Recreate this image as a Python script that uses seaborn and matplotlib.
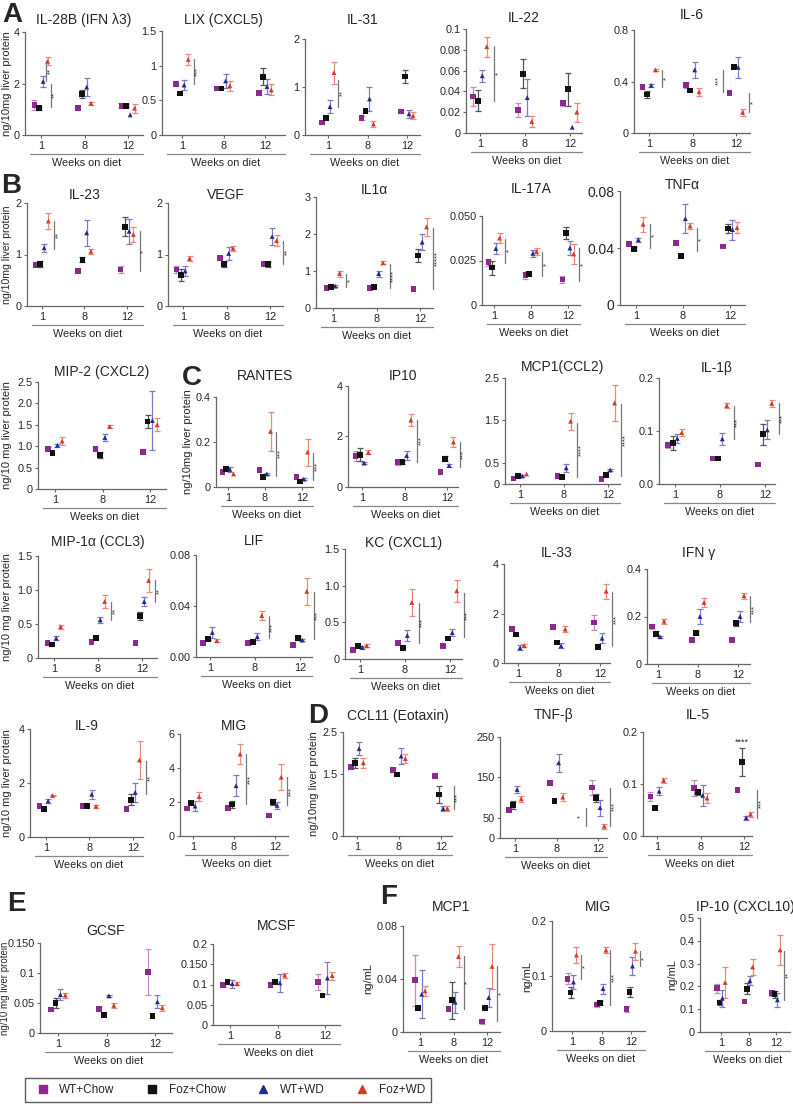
import numpy as np
import pandas as pd
import matplotlib
matplotlib.use("Agg")
import matplotlib.pyplot as plt
from matplotlib.lines import Line2D
import seaborn as sns

sns.set_theme(style="ticks")
plt.rcParams['font.family'] = ['Liberation Sans', 'DejaVu Sans']

W, H = 793, 1111

GROUPS = ["WT+Chow", "Foz+Chow", "WT+WD", "Foz+WD"]
WEEKS = ["1", "8", "12"]

# means / error bars: rows = GROUPS, columns = WEEKS
IL28B_M = [[1.17, 1.06, 1.14], [1.04, 1.58, 1.13], [2.08, 1.86, 0.78], [2.86, 1.23, 1.04]]
IL28B_E = [[0.18, 0, 0.1], [0.05, 0.15, 0.06], [0.22, 0.35, 0], [0.16, 0.07, 0.18]]
LIX_M = [[0.74, 0.67, 0.61], [0.6, 0.67, 0.84], [0.72, 0.78, 0.7], [1.09, 0.71, 0.65]]
LIX_E = [[0, 0, 0.04], [0, 0, 0.12], [0.07, 0.1, 0.11], [0.08, 0.07, 0.08]]
IL31_M = [[0.26, 0.35, 0.49], [0.35, 0.5, 1.22], [0.59, 0.75, 0.44], [1.3, 0.23, 0.4]]
IL31_E = [[0, 0.04, 0.03], [0, 0, 0.13], [0.13, 0.26, 0.08], [0.23, 0.06, 0.07]]
IL22_M = [[0.035, 0.022, 0.029], [0.031, 0.057, 0.042], [0.055, 0.034, 0.0055], [0.083, 0.011, 0.02]]
IL22_E = [[0.009, 0.0065, 0.003], [0.01, 0.014, 0.016], [0.006, 0.018, 0], [0.0095, 0.005, 0.009]]
IL6_M = [[0.36, 0.37, 0.31], [0.3, 0.33, 0.51], [0.37, 0.49, 0.51], [0.49, 0.32, 0.16]]
IL6_E = [[0.015, 0.02, 0], [0.03, 0, 0], [0.01, 0.06, 0.08], [0.01, 0.03, 0.03]]

IL23_M = [[0.8, 0.68, 0.71], [0.81, 0.9, 1.54], [1.13, 1.42, 1.45], [1.65, 1.06, 1.39]]
IL23_E = [[0, 0, 0.06], [0.06, 0.05, 0.19], [0.08, 0.25, 0.24], [0.15, 0.05, 0.15]]
VEGF_M = [[0.71, 0.93, 0.81], [0.6, 0.81, 0.81], [0.68, 1.02, 1.35], [0.92, 1.12, 1.27]]
VEGF_E = [[0.06, 0, 0], [0.12, 0.05, 0.05], [0.1, 0.13, 0.17], [0.05, 0.05, 0.1]]
IL1A_M = [[0.55, 0.55, 0.52], [0.57, 0.57, 1.42], [0.59, 0.93, 1.78], [0.93, 1.22, 2.19]]
IL1A_E = [[0, 0, 0], [0, 0, 0.18], [0.03, 0.08, 0.22], [0.08, 0.04, 0.25]]
IL17A_M = [[0.024, 0.0167, 0.0144], [0.021, 0.0176, 0.0404], [0.0317, 0.029, 0.032], [0.0376, 0.03, 0.0287]]
IL17A_E = [[0.002, 0.002, 0.002], [0.004, 0, 0.0033], [0.003, 0.002, 0.0037], [0.003, 0.002, 0.0055]]
TNFA_M = [[0.043, 0.0435, 0.041], [0.0395, 0.0344, 0.0536], [0.0458, 0.0606, 0.0529], [0.0566, 0.0554, 0.0543]]
TNFA_E = [[0, 0, 0], [0.001, 0, 0.003], [0.0014, 0.01, 0.007], [0.0055, 0.002, 0.004]]

MIP2_M = [[0.93, 0.94, 0.87], [0.84, 0.8, 1.58], [1.02, 1.2, 1.6], [1.12, 1.46, 1.5]]
MIP2_E = [[0.05, 0.04, 0.06], [0, 0.07, 0.16], [0.04, 0.08, 0.7], [0.1, 0.03, 0.15]]
RANTES_M = [[0.068, 0.075, 0.044], [0.08, 0.046, 0.024], [0.078, 0.058, 0.035], [0.058, 0.247, 0.155]]
RANTES_E = [[0, 0, 0], [0.005, 0, 0], [0.01, 0.005, 0.005], [0, 0.085, 0.06]]
IP10_M = [[1.24, 0.98, 0.6], [1.28, 0.98, 1.11], [0.95, 1.24, 0.85], [1.37, 2.65, 1.78]]
IP10_E = [[0.2, 0.1, 0], [0.25, 0.06, 0.1], [0.05, 0.18, 0.05], [0.08, 0.23, 0.2]]
MCP1C_M = [[0.13, 0.19, 0.12], [0.19, 0.16, 0.21], [0.19, 0.38, 0.33], [0.235, 1.48, 1.91]]
MCP1C_E = [[0, 0, 0], [0, 0, 0], [0.03, 0.1, 0.03], [0, 0.2, 0.43]]
IL1B_M = [[0.073, 0.048, 0.037], [0.077, 0.048, 0.094], [0.086, 0.085, 0.102], [0.097, 0.148, 0.152]]
IL1B_E = [[0.006, 0, 0], [0.013, 0, 0.02], [0.008, 0.012, 0.018], [0.006, 0.005, 0.007]]

MIP1A_M = [[0.22, 0.24, 0.22], [0.2, 0.29, 0.62], [0.29, 0.56, 0.83], [0.46, 0.83, 1.14]]
MIP1A_E = [[0, 0, 0], [0, 0, 0.06], [0.03, 0.05, 0.07], [0.03, 0.1, 0.17]]
LIF_M = [[0.011, 0.011, 0.0096], [0.0141, 0.012, 0.015], [0.0192, 0.016, 0.0133], [0.0128, 0.0325, 0.0515]]
LIF_E = [[0, 0, 0], [0.001, 0, 0.0015], [0.004, 0.0025, 0.001], [0.001, 0.0035, 0.0105]]
KC_M = [[0.12, 0.22, 0.18], [0.18, 0.15, 0.28], [0.16, 0.32, 0.36], [0.18, 0.77, 0.93]]
KC_E = [[0, 0, 0], [0, 0, 0], [0.02, 0.07, 0.05], [0.02, 0.19, 0.15]]
IL33_M = [[1.37, 1.44, 1.64], [1.15, 0.83, 0.65], [0.61, 0.69, 1.0], [0.7, 1.37, 2.9]]
IL33_E = [[0, 0, 0.3], [0, 0, 0], [0.1, 0.1, 0.2], [0.05, 0.12, 0.3]]
IFNG_M = [[0.158, 0.1, 0.1], [0.127, 0.132, 0.172], [0.115, 0.2, 0.2], [0.18, 0.259, 0.287]]
IFNG_E = [[0.01, 0, 0], [0.01, 0.005, 0.01], [0.005, 0.03, 0.025], [0.01, 0.02, 0.013]]

IL9_M = [[1.16, 1.14, 1.05], [1.04, 1.14, 1.38], [1.33, 1.58, 1.65], [1.54, 1.14, 2.85]]
IL9_E = [[0, 0, 0], [0, 0, 0.2], [0.08, 0.17, 0.35], [0.03, 0.05, 0.72]]
MIG_M = [[1.62, 1.66, 1.2], [1.92, 1.86, 2.0], [1.76, 2.96, 1.8], [2.32, 4.82, 3.46]]
MIG_E = [[0, 0, 0], [0, 0.2, 0.15], [0.3, 0.6, 0.2], [0.25, 0.6, 0.75]]
CCL11_M = [[1.66, 1.58, 1.44], [1.76, 1.48, 1.0], [2.1, 1.92, 0.66], [1.76, 1.86, 0.66]]
CCL11_E = [[0, 0.05, 0], [0.12, 0, 0.2], [0.16, 0.2, 0.06], [0.12, 0.1, 0.06]]
TNFB_M = [[70, 137, 125], [82, 91, 99], [120, 186, 75], [97, 101, 29]]
TNFB_E = [[0, 5, 19], [10, 0, 9], [8, 22, 20], [8, 10, 6]]
IL5_M = [[0.076, 0.092, 0.089], [0.054, 0.084, 0.142], [0.086, 0.078, 0.035], [0.107, 0.073, 0.042]]
IL5_E = [[0.008, 0.015, 0], [0, 0.005, 0.027], [0.008, 0.02, 0.004], [0.005, 0.01, 0.005]]

GCSF_M = [[0.039, 0.04, 0.102], [0.05, 0.03, 0.028], [0.064, 0.062, 0.052], [0.063, 0.046, 0.042]]
GCSF_E = [[0, 0.003, 0.038], [0.009, 0, 0], [0.009, 0.002, 0.011], [0.004, 0.004, 0.005]]
MCSF_M = [[0.098, 0.098, 0.106], [0.106, 0.106, 0.073], [0.102, 0.104, 0.116], [0.102, 0.123, 0.122]]
MCSF_E = [[0.004, 0.005, 0.02], [0.004, 0, 0], [0.01, 0.022, 0.04], [0.003, 0.006, 0.01]]

MCP1F_M = [[0.039, 0.0175, 0.008], [0.018, 0.024, 0.018], [0.0285, 0.0225, 0.026], [0.031, 0.057, 0.0495]]
MCP1F_E = [[0.019, 0, 0.002], [0, 0.014, 0], [0.018, 0.008, 0.0075], [0.004, 0.008, 0.017]]
MIGF_M = [[0.095, 0.048, 0.04], [0.07, 0.051, 0.071], [0.089, 0.077, 0.118], [0.138, 0.147, 0.145]]
MIGF_E = [[0.01, 0.005, 0.005], [0.01, 0.004, 0.009], [0.012, 0.009, 0.017], [0.014, 0.005, 0.015]]
IP10F_M = [[0.192, 0.134, 0.17], [0.129, 0.19, 0.166], [0.148, 0.225, 0.141], [0.217, 0.285, 0.36]]
IP10F_E = [[0.02, 0, 0.012], [0.01, 0.025, 0.015], [0.038, 0.02, 0.03], [0.07, 0.035, 0.066]]

COLORS = {"WT+Chow": "#8b2a8c", "Foz+Chow": "#111111", "WT+WD": "#27288a", "Foz+WD": "#d63a27"}
ERR_COLORS = {"WT+Chow": "#c48cc4", "Foz+Chow": "#555555", "WT+WD": "#7c7cc2", "Foz+WD": "#e88b7c"}
MARKERS = {"WT+Chow": "s", "Foz+Chow": "s", "WT+WD": "^", "Foz+WD": "^"}
SIZES = {"WT+Chow": 17, "Foz+Chow": 17, "WT+WD": 12, "Foz+WD": 12}
OFFSETS = {"WT+Chow": -0.15, "Foz+Chow": -0.05, "WT+WD": 0.05, "Foz+WD": 0.15}

AXC = "#666666"
fig = plt.figure(figsize=(W / 100, H / 100), dpi=100)


def panel(title, mean, err, ylim, ticks, labels, box, title_y, ylabel=None, ylab_x=None,
          brackets=(), notes=(), tick_fs=7.8, ylab_fs=8):
    L, T1, T12, R, y0, ytop = box
    step = (T12 - T1) / 2
    hpx = y0 - ytop
    ax = fig.add_axes([L / W, 1 - y0 / H, (R - L) / W, hpx / H])
    ax.set_xlim(-(T1 - L) / step, 2 + (R - T12) / step)
    ax.set_ylim(*ylim)

    rows = []
    for gi, g in enumerate(GROUPS):
        for wi in range(3):
            rows.append({"group": g, "x": wi + OFFSETS[g], "y": mean[gi][wi], "e": err[gi][wi]})
    df = pd.DataFrame(rows)

    for g in GROUPS:
        sub = df[(df["group"] == g) & (df["e"] > 0)]
        if len(sub):
            c = ax.errorbar(sub["x"], sub["y"], yerr=sub["e"], fmt="none", ecolor=ERR_COLORS[g],
                            elinewidth=0.9, capsize=2, capthick=0.9, zorder=2)
            for a in c.get_children():
                a.set_clip_on(False)
    sns.scatterplot(data=df, x="x", y="y", hue="group", style="group", size="group",
                    palette=COLORS, markers=MARKERS, sizes=SIZES, legend=False, ax=ax,
                    linewidth=0, zorder=3, clip_on=False)

    ax.set_xticks([0, 1, 2])
    ax.set_xticklabels(WEEKS)
    ax.set_yticks(ticks)
    ax.set_yticklabels(labels)
    ax.set_xlabel("")
    ax.set_ylabel("")
    sns.despine(ax=ax)
    for s in ("left", "bottom"):
        ax.spines[s].set_color(AXC)
        ax.spines[s].set_linewidth(0.9)
    ax.tick_params(axis="both", length=2.5, width=0.8, color=AXC, pad=1.5, labelsize=7.8)
    ax.tick_params(axis="y", labelsize=tick_fs)

    ax.text(0.5, (y0 - title_y) / hpx, title, transform=ax.transAxes, ha="center",
            va="center", fontsize=10)
    # "Weeks on diet" bar below tick labels
    x0 = 5 / (R - L)
    ax.plot([x0, 1], [-19 / hpx, -19 / hpx], transform=ax.transAxes, color="#888888",
            lw=0.9, clip_on=False)
    ax.text((x0 + 1) / 2, -28 / hpx, "Weeks on diet", transform=ax.transAxes,
            ha="center", va="center", fontsize=7.8)

    if ylabel:
        ax.set_ylabel(ylabel, fontsize=ylab_fs, va="center")
        ax.yaxis.set_label_coords((ylab_x - L) / (R - L), 0.5)

    for b in brackets:
        wk, lo, hi, lab = b[:4]
        off = b[4] if len(b) > 4 else 0.3
        xb = wk + off
        ax.plot([xb, xb], [lo, hi], color="#777777", lw=0.9, clip_on=False, zorder=1)
        side = np.sign(off) * 4.5 / step
        ax.text(xb + side, (lo + hi) / 2, lab, rotation=90, ha="center", va="center",
                fontsize=5.5, color="#333333")
    for wk, yv, lab in notes:
        ax.text(wk + OFFSETS["Foz+Chow"], yv, lab, ha="center", va="center", fontsize=6.5)
    return ax


LBL = "ng/10mg liver protein"
LBL2 = "ng/10 mg liver protein"

# ---- A
panel("IL-28B (IFN λ3)", IL28B_M, IL28B_E, (0, 4), [0, 2, 4], ["0", "2", "4"],
      (25, 41, 128, 143, 135, 32), 20, LBL, 7,
      [(0, 2.08, 2.86, "**", 0.12), (0, 1.1, 2.0, "**", 0.22)])
panel("LIX (CXCL5)", LIX_M, LIX_E, (0, 1.5), [0, 0.5, 1, 1.5], ["0", "0.5", "1", "1.5"],
      (162, 182, 265, 285, 135, 31), 20, brackets=[(0, 0.74, 1.09, "***", 0.28)])
panel("IL-31", IL31_M, IL31_E, (0, 2), [0, 1, 2], ["0", "1", "2"],
      (305, 328, 407, 420, 135, 39), 20, brackets=[(0, 0.58, 1.15, "**", 0.25)])
panel("IL-22", IL22_M, IL22_E, (0, 0.1), [0, 0.02, 0.04, 0.06, 0.08, 0.1],
      ["0", "0.02", "0.04", "0.06", "0.08", "0.1"],
      (466, 480, 570, 582, 133, 29), 18, brackets=[(0, 0.031, 0.084, "*", 0.32)])
panel("IL-6", IL6_M, IL6_E, (0, 0.8), [0, 0.4, 0.8], ["0", "0.4", "0.8"],
      (634, 649, 736, 750, 133, 30), 15,
      brackets=[(0, 0.36, 0.49, "*", 0.3), (2, 0.32, 0.49, "***", -0.3), (2, 0.16, 0.31, "*", 0.3)])

# ---- B
panel("IL-23", IL23_M, IL23_E, (0, 2), [0, 1, 2], ["0", "1", "2"],
      (27, 42, 127, 143, 306, 203), 195, LBL, 7,
      [(0, 1.1, 1.65, "**", 0.28), (2, 0.68, 1.45, "*", 0.3)], ylab_fs=7.6)
panel("VEGF", VEGF_M, VEGF_E, (0, 2), [0, 1, 2], ["0", "1", "2"],
      (168, 183, 270, 283, 306, 203), 195, brackets=[(2, 0.81, 1.27, "**", 0.3)])
panel("IL1α", IL1A_M, IL1A_E, (0, 3), [0, 1, 2, 3], ["0", "1", "2", "3"],
      (316, 333, 420, 433, 308, 197), 190,
      brackets=[(0, 0.57, 0.93, "*", 0.3), (1, 0.55, 1.2, "****", 0.3), (2, 0.52, 2.15, "*****", 0.3)])
panel("IL-17A", IL17A_M, IL17A_E, (0, 0.05), [0, 0.025, 0.05], ["0", "0.025", "0.050"],
      (482, 494, 568, 580, 305, 216), 189,
      brackets=[(0, 0.0237, 0.037, "*", 0.3), (1, 0.0163, 0.0296, "*", 0.3), (2, 0.0135, 0.032, "*", 0.3)])
panel("TNFα", TNFA_M, TNFA_E, (0, 0.08), [0, 0.04, 0.08], ["0", "0.04", "0.08"],
      (620, 636, 730, 745, 305, 191), 185,
      brackets=[(0, 0.04, 0.057, "*", 0.3), (1, 0.038, 0.054, "*", 0.3)], tick_fs=10)

# ---- MIP-2 and C
panel("MIP-2 (CXCL2)", MIP2_M, MIP2_E, (0, 2.5), [0, 0.5, 1, 1.5, 2, 2.5],
      ["0", "0.5", "1.0", "1.5", "2.0", "2.5"], (38, 55, 150, 166, 489, 382), 372, LBL2, 7)
panel("RANTES", RANTES_M, RANTES_E, (0, 0.4), [0, 0.2, 0.4], ["0", "0.2", "0.4"],
      (216, 228, 302, 313, 487, 397), 376, LBL, 188,
      [(1, 0.05, 0.244, "***", 0.3), (2, 0.03, 0.15, "***", 0.3)])
panel("IP10", IP10_M, IP10_E, (0, 4), [0, 2, 4], ["0", "2", "4"],
      (348, 362, 447, 458, 487, 386), 376,
      brackets=[(1, 1.0, 2.65, "***", 0.3), (2, 0.8, 1.78, "***", 0.3)])
panel("MCP1(CCL2)", MCP1C_M, MCP1C_E, (0, 2.5), [0, 0.5, 1.5, 2.5], ["0", "0.5", "1.5", "2.5"],
      (505, 520, 608, 620, 484, 378), 367,
      brackets=[(1, 0.16, 1.45, "****", 0.3), (2, 0.2, 1.88, "****", 0.3)])
panel("IL-1β", IL1B_M, IL1B_E, (0, 0.2), [0, 0.1, 0.2], ["0.0", "0.1", "0.2"],
      (659, 675, 765, 775, 484, 378), 368,
      brackets=[(1, 0.085, 0.147, "***", 0.3), (2, 0.094, 0.152, "***", 0.3)])

# ---- row 4
panel("MIP-1α (CCL3)", MIP1A_M, MIP1A_E, (0, 1.5), [0, 0.5, 1, 1.5], ["0", "0.5", "1.0", "1.5"],
      (38, 54, 142, 157, 658, 556), 542, LBL2, 7,
      [(1, 0.56, 0.83, "**", 0.3), (2, 0.83, 1.14, "**", 0.3)])
panel("LIF", LIF_M, LIF_E, (0, 0.08), [0, 0.04, 0.08], ["0.00", "0.04", "0.08"],
      (196, 210, 300, 312, 657, 555), 541,
      brackets=[(1, 0.015, 0.032, "***", 0.3), (2, 0.014, 0.051, "***", 0.3)])
panel("KC (CXCL1)", KC_M, KC_E, (0, 1.5), [0, 0.5, 1, 1.5], ["0", "0.5", "1.0", "1.5"],
      (345, 360, 450, 462, 659, 549), 543,
      brackets=[(1, 0.22, 0.77, "***", 0.3), (2, 0.3, 0.9, "***", 0.3)])
panel("IL-33", IL33_M, IL33_E, (0, 4), [0, 2, 4], ["0", "2", "4"],
      (504, 518, 600, 610, 663, 564), 553, brackets=[(2, 0.7, 2.85, "***", 0.3)])
panel("IFN γ", IFNG_M, IFNG_E, (0, 0.4), [0, 0.2, 0.4], ["0", "0.2", "0.4"],
      (647, 658, 738, 750, 664, 569), 553, brackets=[(2, 0.175, 0.285, "***", 0.3)])

# ---- row 5 and D
panel("IL-9", IL9_M, IL9_E, (0, 4), [0, 2, 4], ["0", "2", "4"],
      (30, 46, 133, 143, 837, 729), 726, LBL2, 7, [(2, 1.6, 2.8, "**", 0.3)])
panel("MIG", MIG_M, MIG_E, (0, 6), [0, 2, 4, 6], ["0", "2", "4", "6"],
      (180, 193, 275, 288, 836, 734), 726,
      brackets=[(1, 1.86, 4.8, "***", 0.3), (2, 1.8, 3.45, "***", 0.3)])
panel("CCL11 (Eotaxin)", CCL11_M, CCL11_E, (0, 2.5), [0, 1.5, 2.5], ["0", "1.5", "2.5"],
      (343, 357, 441, 452, 836, 732), 716, LBL, 314, [(2, 0.66, 1.2, "***", 0.3)])
panel("TNF-β", TNFB_M, TNFB_E, (0, 250), [0, 50, 150, 250], ["0", "50", "150", "250"],
      (500, 515, 598, 607, 838, 737), 715,
      brackets=[(2, 29, 75, "*", -0.3), (2, 29, 125, "***", 0.3)])
panel("IL-5", IL5_M, IL5_E, (0, 0.2), [0, 0.1, 0.2], ["0.0", "0.1", "0.2"],
      (643, 657, 744, 752, 836, 732), 715,
      brackets=[(2, 0.035, 0.089, "***", 0.3)], notes=[(2, 0.18, "****")])

# ---- E
panel("GCSF", GCSF_M, GCSF_E, (0, 0.15), [0, 0.05, 0.1, 0.15], ["0", "0.05", "0.1", "0.150"],
      (40, 58, 155, 172, 1033, 943), 931, LBL2, 5, ylab_fs=7.0)
panel("MCSF", MCSF_M, MCSF_E, (0, 0.2), [0, 0.05, 0.1, 0.15, 0.2],
      ["0", "0.05", "0.1", "0.150", "0.2"], (213, 230, 325, 340, 1025, 944), 926)

# ---- F
panel("MCP1", MCP1F_M, MCP1F_E, (0, 0.08), [0, 0.04, 0.08], ["0", "0.04", "0.08"],
      (403, 420, 487, 500, 1032, 926), 907, "ng/mL", 368,
      [(1, 0.0175, 0.057, "*", 0.3), (2, 0.008, 0.0495, "*", 0.3)])
panel("MIG", MIGF_M, MIGF_E, (0, 0.2), [0, 0.1, 0.2], ["0", "0.1", "0.2"],
      (552, 572, 631, 645, 1031, 921), 907, "ng/mL", 527,
      [(0, 0.095, 0.138, "*", 0.3), (1, 0.048, 0.147, "***", 0.3), (2, 0.118, 0.145, "*", 0.3)])
panel("IP-10 (CXCL10)", IP10F_M, IP10F_E, (0, 0.5), [0, 0.1, 0.2, 0.3, 0.4, 0.5],
      ["0", "0.1", "0.2", "0.3", "0.4", "0.5"], (700, 721, 776, 790, 1032, 918), 907,
      "ng/mL", 672, [(2, 0.141, 0.355, "**", 0.3)])

# panel letters
for letter, (px, py) in {"A": (12, 15), "B": (11, 186), "C": (192, 378), "D": (318, 716),
                         "E": (16, 904), "F": (389, 897)}.items():
    fig.text(px / W, 1 - py / H, letter, fontsize=20, fontweight="bold", ha="center", va="center")

handles = [Line2D([], [], marker=MARKERS[g], color=COLORS[g], linestyle="none", markersize=6)
           for g in GROUPS]
fig.legend(handles, GROUPS, loc="center", bbox_to_anchor=(228 / W, 1 - 1090 / H), ncol=4,
           frameon=True, fancybox=False, edgecolor="#333333", fontsize=8.5,
           handletextpad=0.4, columnspacing=2.2, borderpad=0.5)

fig.savefig("out.png", dpi=100)
